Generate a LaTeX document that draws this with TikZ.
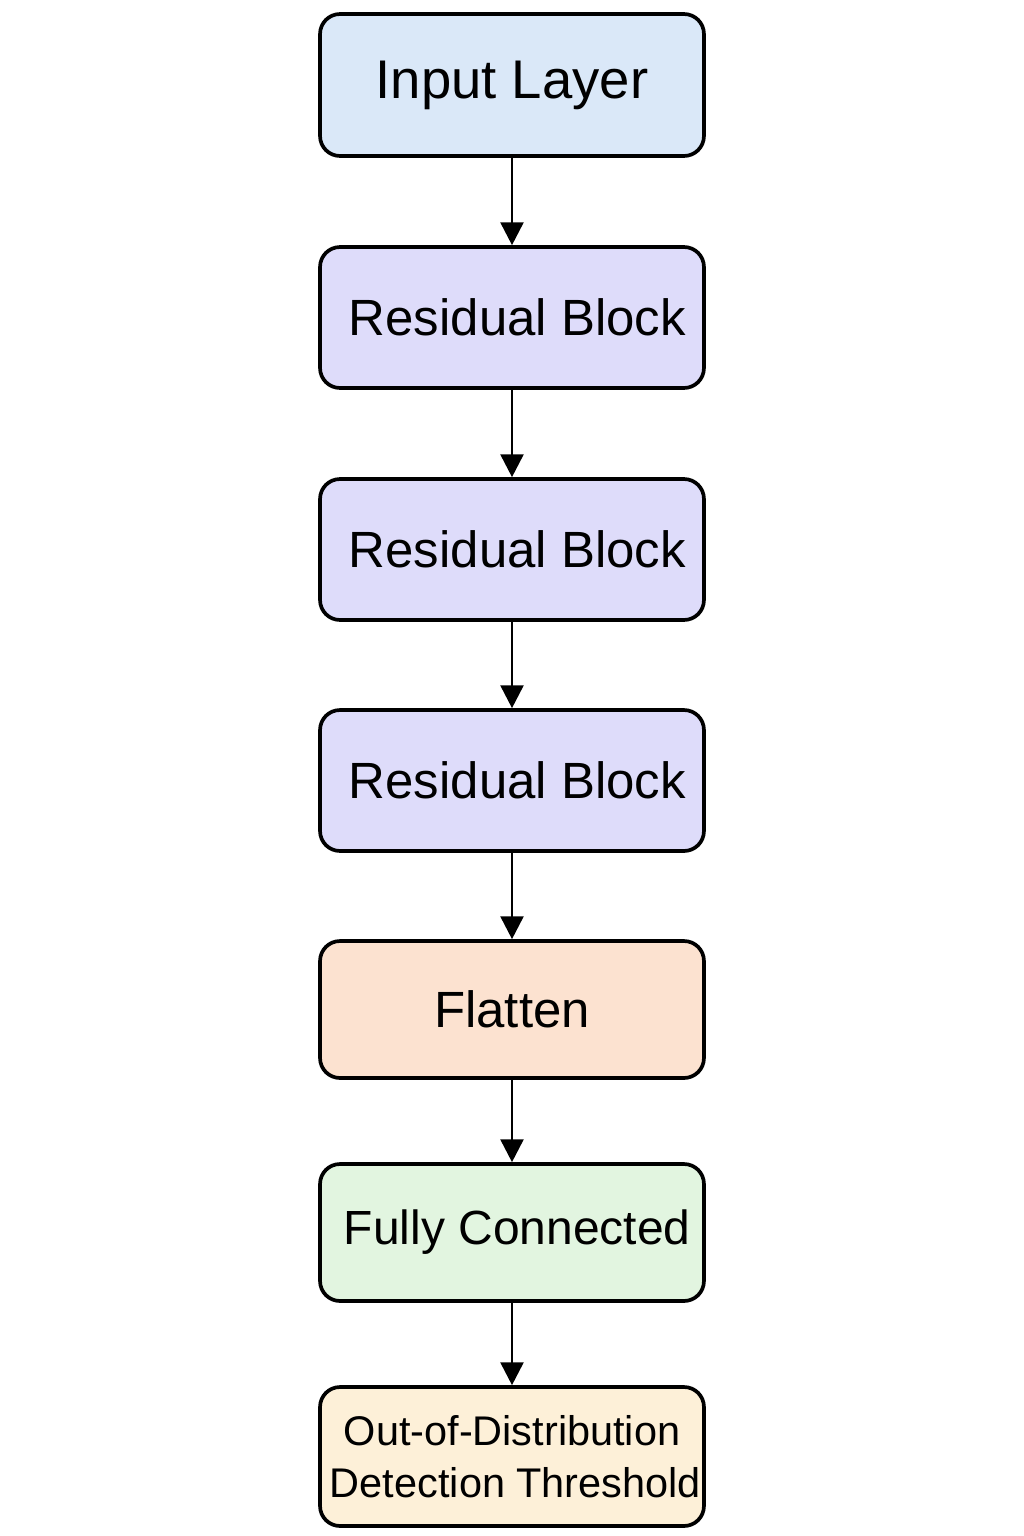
\documentclass[tikz,border=0pt]{standalone}
\usepackage{fontspec}
\setmainfont{Liberation Sans}
\usetikzlibrary{arrows.meta}
\definecolor{inputblue}{HTML}{DAE8F8}
\definecolor{resviolet}{HTML}{DEDCFA}
\definecolor{flatpeach}{HTML}{FCE2D0}
\definecolor{fcgreen}{HTML}{E2F5E0}
\definecolor{oodcream}{HTML}{FDF0D8}
\tikzset{
  layer/.style={draw, line width=2.1pt, rounded corners=0.4cm,
    minimum width=7.68cm, align=center, inner sep=0pt,
    font=\fontsize{29}{35}\selectfont},
  flow/.style={-{Triangle[width=13pt,length=13pt]}, line width=1.6pt}
}
\begin{document}
\begin{tikzpicture}[x=0.02cm, y=-0.02cm]
  \useasboundingbox (0,0) rectangle (1024,1536);
  \draw
    (512,85) node[layer, fill=inputblue, minimum height=2.84cm,
      font=\fontsize{31}{37}\selectfont] (input) {Input Layer}
    (512,317.5) node[layer, fill=resviolet, minimum height=2.82cm] (res1) {\hspace{6pt}Residual Block}
    (512,549.5) node[layer, fill=resviolet, minimum height=2.82cm] (res2) {\hspace{6pt}Residual Block}
    (512,780.5) node[layer, fill=resviolet, minimum height=2.82cm] (res3) {\hspace{6pt}Residual Block}
    (512,1009.5) node[layer, fill=flatpeach, minimum height=2.74cm] (flat) {Flatten}
    (512,1232.5) node[layer, fill=fcgreen, minimum height=2.74cm,
      font=\fontsize{27.3}{33}\selectfont] (fc) {\hspace{6pt}Fully Connected}
    (512,1456.5) node[layer, fill=oodcream, minimum height=2.78cm,
      font=\fontsize{23.6}{29.5}\selectfont] (ood) {Out-of-Distribution\\\hspace{4pt}Detection Threshold};
  \begin{scope}[flow]
    \draw (input) to (res1);
    \draw (res1) to (res2);
    \draw (res2) to (res3);
    \draw (res3) to (flat);
    \draw (flat) to (fc);
    \draw (fc) to (ood);
  \end{scope}
\end{tikzpicture}
\end{document}
